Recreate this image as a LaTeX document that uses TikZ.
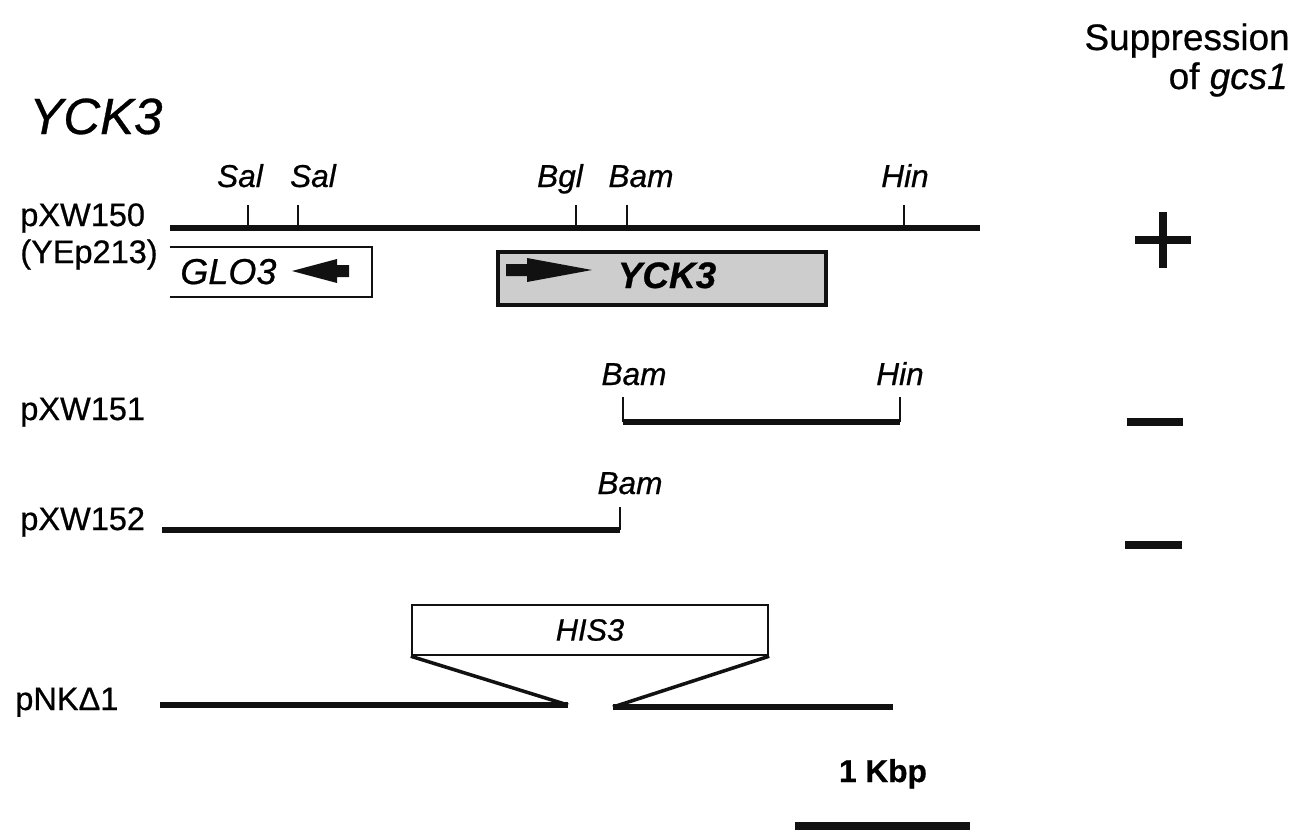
\documentclass[tikz,border=0pt]{standalone}
\usepackage{fontspec}
\setmainfont{Liberation Sans}[FakeBold=0.6]
\usetikzlibrary{positioning,calc}
\definecolor{ink}{HTML}{111111}
\definecolor{stipple}{HTML}{CDCDCD}
\tikzset{
  lbl/.style={inner sep=0pt,font=\fontsize{18.5}{20}\selectfont},
  site/.style={inner sep=0pt,anchor=base,font=\fontsize{18}{20}\selectfont\itshape},
  gene/.style={draw=ink,line width=1.4pt,fill=white,inner sep=0pt},
  dna/.style={draw=ink,line width=3pt},
  cut/.style={draw=ink,line width=1.5pt},
  score/.style={draw=ink,line width=5pt},
}

\begin{document}
\begin{tikzpicture}[x=0.02cm,y=-0.02cm]
  \useasboundingbox (0,0) rectangle (1292,832);
  % headings
  \node[inner sep=0pt,anchor=base west,font=\fontsize{29}{30}\selectfont\itshape] (title) at (29,134) {YCK3};
  \node[inner sep=0pt,anchor=base east,font=\fontsize{21}{22}\selectfont] (supp) at (1290,50) {Suppression};
  \node[inner sep=0pt,anchor=base east,font=\fontsize{21}{22}\selectfont] (supp2) at (1288,89) {of \textit{gcs1}};
  % pXW150 (YEp213)
  \node[lbl,anchor=base west] (p150) at (20,226) {pXW150};
  \node[lbl,anchor=base west] (yep) at (20,263) {(YEp213)};
  \coordinate (a0) at (170,228); \coordinate (a1) at (980,228);
  \draw[dna] (a0) -- (a1);
  \foreach \x/\lx/\n in {248/240/Sal,298/313/Sal,576/560/Bgl,627/641/Bam,904/905/Hin}{
    \draw[cut] (\x,228) -- (\x,205);
    \node[site] at (\lx,187) {\n};}
  \draw[gene,fill=none] (170,247) -| (372,297) -- (170,297);
  \node[lbl,anchor=base west,font=\fontsize{20.5}{22}\selectfont\itshape] (glo) at (180,284) {GLO3};
  \fill[ink] (292,271) -- (337,259) -- (337,265) -- (349,265) -- (349,277) -- (337,277) -- (337,283) -- cycle;
  \node[gene,fill=stipple,line width=2pt,minimum width=6.56cm,minimum height=1.06cm] (yck) at (662,278.5) {};
  \fill[ink] (592,270) -- (527,258) -- (527,264) -- (506,264) -- (506,276) -- (527,276) -- (527,282) -- cycle;
  \node[inner sep=0pt,anchor=base,font=\fontsize{21}{22}\selectfont\bfseries\itshape] (yckt) at (667,288) {YCK3};
  \draw[score] (1135,240) -- (1191,240) (1163,212) -- (1163,268);
  % pXW151
  \node[lbl,anchor=base west] (p151) at (20,420) {pXW151};
  \coordinate (b0) at (623,422); \coordinate (b1) at (900,422);
  \draw[dna] (b0) -- (b1);
  \draw[cut] (b0) -- ++(0,-25) (b1) -- ++(0,-25);
  \node[site] at (634,385) {Bam}; \node[site] at (900,385) {Hin};
  \draw[score] (1127,422) -- (1183,422);
  % pXW152
  \node[lbl,anchor=base west] (p152) at (20,530) {pXW152};
  \coordinate (c0) at (162,530); \coordinate (c1) at (620,530);
  \draw[dna] (c0) -- (c1);
  \draw[cut] (c1) -- ++(0,-23);
  \node[site] at (630,494) {Bam};
  \draw[score] (1125,545) -- (1182,545);
  % pNK delta 1
  \node[lbl,anchor=base west] (pnk) at (15,710) {pNKΔ1};
  \node[gene,minimum width=7.12cm,minimum height=1cm,font=\fontsize{17.5}{18}\selectfont\itshape] (his) at (590,630) {HIS3};
  \coordinate (d0) at (160,705); \coordinate (d1) at (568,705);
  \coordinate (d2) at (613,707); \coordinate (d3) at (893,707);
  \draw[dna] (d0) -- (d1); \draw[dna] (d2) -- (d3);
  \draw[gene,line width=2pt] (his.south west) -- (d1) (his.south east) -- (d2);
  % scale bar
  \node[inner sep=0pt,anchor=base,font=\fontsize{18}{20}\selectfont\bfseries] (kbp) at (883,782) {1 Kbp};
  \draw[score,line width=4pt] (795,826) -- (970,826);
\end{tikzpicture}
\end{document}
